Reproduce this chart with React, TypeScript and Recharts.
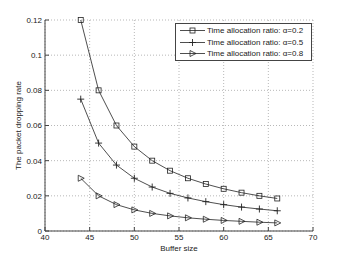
import { CartesianGrid, Line, LineChart, XAxis, YAxis } from "recharts";

const bufferSizes = [44, 46, 48, 50, 52, 54, 56, 58, 60, 62, 64, 66];
const dropAlpha02 = [0.12, 0.08, 0.06, 0.048, 0.04, 0.0343, 0.03, 0.0267, 0.024, 0.0218, 0.02, 0.0185];
const dropAlpha05 = [0.075, 0.05, 0.0375, 0.03, 0.025, 0.0214, 0.0188, 0.0167, 0.015, 0.0136, 0.0125, 0.0115];
const dropAlpha08 = [0.03, 0.02, 0.015, 0.012, 0.01, 0.0086, 0.0075, 0.0067, 0.006, 0.0055, 0.005, 0.0046];

const xTicks = [40, 45, 50, 55, 60, 65, 70];
const yTicks = [0, 0.02, 0.04, 0.06, 0.08, 0.1, 0.12];

const seriesLabels = [
  "Time allocation ratio: \u03b1=0.2",
  "Time allocation ratio: \u03b1=0.5",
  "Time allocation ratio: \u03b1=0.8",
];

const FONT = '"Liberation Sans", Arial, Helvetica, sans-serif';
const INK = "#222";
const FRAME = "#444";

const rows = bufferSizes.map((x, i) => ({
  x,
  a02: dropAlpha02[i],
  a05: dropAlpha05[i],
  a08: dropAlpha08[i],
}));

type MarkerKind = "square" | "plus" | "triangle";

function markerShape(kind: MarkerKind, cx: number, cy: number, key?: string) {
  if (kind === "square") {
    return (
      <rect key={key} x={cx - 2.5} y={cy - 2.5} width={5} height={5} fill="none" stroke={INK} strokeWidth={0.8} />
    );
  }
  if (kind === "plus") {
    return (
      <path
        key={key}
        d={`M${cx - 3.5},${cy}H${cx + 3.5}M${cx},${cy - 3.5}V${cy + 3.5}`}
        stroke={INK}
        strokeWidth={0.9}
        fill="none"
      />
    );
  }
  return (
    <path
      key={key}
      d={`M${cx - 2.5},${cy - 3}L${cx + 3.5},${cy}L${cx - 2.5},${cy + 3}Z`}
      stroke={INK}
      strokeWidth={0.8}
      fill="none"
    />
  );
}

function makeDot(kind: MarkerKind) {
  return (props: any) => {
    const { cx, cy, index } = props;
    if (cx == null || cy == null) return <g key={`${kind}-${index}`} />;
    return markerShape(kind, cx, cy, `${kind}-${index}`);
  };
}

// top/right axes only draw the inward tick marks of the box
const emptyTick = () => <g />;

const legendItems: { label: string; kind: MarkerKind }[] = [
  { label: seriesLabels[0], kind: "square" },
  { label: seriesLabels[1], kind: "plus" },
  { label: seriesLabels[2], kind: "triangle" },
];

function ChartLegend() {
  return (
    <div
      style={{
        position: "absolute",
        left: 175,
        top: 23,
        width: 137,
        height: 38,
        boxSizing: "border-box",
        border: `1px solid ${FRAME}`,
        background: "#fff",
        fontFamily: FONT,
        fontSize: 8,
        color: INK,
        paddingTop: 1,
      }}
    >
      {legendItems.map((item) => (
        <div key={item.label} style={{ display: "flex", alignItems: "center", height: 11.5 }}>
          <svg width={31} height={11} style={{ flex: "none" }}>
            <line x1={4} x2={29} y1={5.5} y2={5.5} stroke={INK} strokeWidth={0.8} />
            {markerShape(item.kind, 16.5, 5.5)}
          </svg>
          <span style={{ whiteSpace: "nowrap" }}>{item.label}</span>
        </div>
      ))}
    </div>
  );
}

export default function App() {
  const tickStyle = { fill: INK, fontSize: 8, fontFamily: FONT };
  return (
    <div style={{ position: "absolute", left: 0, top: 0, width: 346, height: 261, background: "#fff" }}>
      <LineChart width={346} height={261} data={rows} margin={{ top: 20, right: 33, bottom: 0, left: 0 }}>
        <CartesianGrid stroke="#999" strokeDasharray="1 2" strokeWidth={0.7} />
        <XAxis
          dataKey="x"
          type="number"
          domain={[40, 70]}
          ticks={xTicks}
          height={30}
          tickSize={-4}
          tickMargin={7}
          stroke={FRAME}
          tick={tickStyle}
          label={{ value: "Buffer size", position: "center", dy: 2, style: { fill: INK, fontSize: 8, fontFamily: FONT } }}
        />
        <XAxis
          xAxisId="top"
          orientation="top"
          type="number"
          domain={[40, 70]}
          ticks={xTicks}
          height={0}
          tickSize={-4}
          stroke={FRAME}
          tick={emptyTick}
        />
        <YAxis
          type="number"
          domain={[0, 0.12]}
          ticks={yTicks}
          width={45}
          tickSize={-4}
          tickMargin={7}
          stroke={FRAME}
          tick={tickStyle}
          label={{
            value: "The packet dropping rate",
            angle: -90,
            position: "center",
            dx: -4,
            style: { fill: INK, fontSize: 8, fontFamily: FONT },
          }}
        />
        <YAxis
          yAxisId="right"
          orientation="right"
          type="number"
          domain={[0, 0.12]}
          ticks={yTicks}
          width={0}
          tickSize={-4}
          stroke={FRAME}
          tick={emptyTick}
        />
        <Line
          dataKey="a02"
          name={seriesLabels[0]}
          stroke={INK}
          strokeWidth={0.8}
          dot={makeDot("square")}
          isAnimationActive={false}
        />
        <Line
          dataKey="a05"
          name={seriesLabels[1]}
          stroke={INK}
          strokeWidth={0.8}
          dot={makeDot("plus")}
          isAnimationActive={false}
        />
        <Line
          dataKey="a08"
          name={seriesLabels[2]}
          stroke={INK}
          strokeWidth={0.8}
          dot={makeDot("triangle")}
          isAnimationActive={false}
        />
      </LineChart>
      <ChartLegend />
    </div>
  );
}
